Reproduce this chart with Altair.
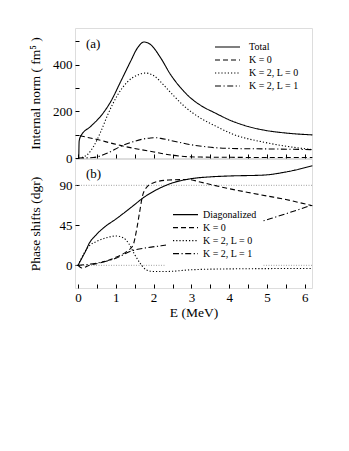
import altair as alt
import pandas as pd

# ---------------- panel (a): internal norm ----------------
names_a = ["Total", "K = 0", "K = 2, L = 0", "K = 2, L = 1"]

E_total = [0.02, 0.03, 0.07, 0.34, 0.6, 0.87, 1.13, 1.39, 1.57, 1.75, 1.92, 2.19, 2.45,
           2.72, 2.98, 3.29, 3.6, 4.08, 4.5, 4.97, 5.5, 6.2]
N_total = [0, 72, 93, 136, 179, 243, 328, 414, 471, 497, 486, 428, 357,
           300, 257, 221, 195, 158, 135, 118, 107, 99]

E_k0 = [0.05, 0.51, 0.87, 1.22, 1.66, 2.01, 2.36, 2.72, 3.25, 4.0, 5.0, 6.2]
N_k0 = [95, 79, 64, 50, 36, 26, 15, 8, 4, 3, 2, 2]

E_l0 = [0.1, 0.25, 0.42, 0.6, 0.78, 1.04, 1.3, 1.57, 1.79, 2.01, 2.28, 2.54, 2.81,
        3.3, 3.6, 4.08, 4.97, 6.2]
N_l0 = [2, 15, 52, 112, 183, 268, 325, 355, 364, 352, 310, 265, 222,
        165, 140, 103, 66, 36]

E_l1 = [0.0, 0.4, 0.78, 1.13, 1.48, 1.92, 2.05, 2.19, 2.54, 2.98, 3.29, 3.63, 4.3, 4.97, 6.2]
N_l1 = [0, 2, 21, 50, 71, 86, 87, 84, 72, 57, 50, 44, 40, 39, 36]

# ---------------- panel (b): phase shifts ----------------
names_b = ["Diagonalized", "K = 0", "K = 2, L = 0", "K = 2, L = 1"]

E_diag = [0.0, 0.1, 0.2, 0.3, 0.45, 0.7, 1.0, 1.4, 1.76, 2.1, 2.45, 3.0, 3.5, 4.0,
          4.9, 5.5, 6.2]
P_diag = [0, 8, 16, 25, 33, 43, 52, 65, 77, 85.5, 92, 97.5, 99.5, 100.5,
          101.5, 105, 112]

E_bk0 = [0.0, 0.1, 0.3, 0.6, 1.0, 1.3, 1.45, 1.55, 1.63, 1.7, 1.8, 2.0, 2.4, 2.9,
         3.3, 3.8, 4.5, 5.0, 5.5, 6.2]
P_bk0 = [0, -3, 0, 3, 9, 16, 22, 40, 60, 77, 87, 93, 96, 96.5,
         93, 88, 82, 78, 74, 67]

E_bl0 = [0.0, 0.15, 0.3, 0.5, 0.75, 1.0, 1.2, 1.35, 1.5, 1.65, 1.8, 2.0, 2.3, 3.0, 4.0, 6.2]
P_bl0 = [0, 13, 22, 27, 31, 33, 31, 24, 12, 2, -5, -7, -7, -5, -4, -3.5]

E_bl1 = [0.0, 0.5, 1.0, 1.4, 1.85, 2.2, 3.0, 4.0, 4.9, 5.5, 6.2]
P_bl1 = [0, 2.5, 8, 16, 20, 22, 28, 38, 50, 58, 68]

ref_lines = [0, 90]

x_ticks = [i * 0.5 for i in range(13)]
ya_ticks = [0, 100, 200, 300, 400, 500]
yb_ticks = [0, 45, 90]

dash_styles = [[1, 0], [5, 3], [1.2, 2], [6, 2.5, 1.2, 2.5]]


def long_df(names, xs, ys):
    rows = []
    for n, xx, yy in zip(names, xs, ys):
        for a, b in zip(xx, yy):
            rows.append({"series": n, "E": a, "v": b})
    return pd.DataFrame(rows)


df_a = long_df(names_a, [E_total, E_k0, E_l0, E_l1], [N_total, N_k0, N_l0, N_l1])
df_b = long_df(names_b, [E_diag, E_bk0, E_bl0, E_bl1], [P_diag, P_bk0, P_bl0, P_bl1])

FONT = "Liberation Serif"
W = 237
HA = 130
HB = 129

xscale = alt.Scale(domain=[-0.08, 6.19], nice=False, zero=False)

x_axis_a = alt.Axis(values=x_ticks, labels=False, title=None, tickSize=4, offset=-4,
                    domain=False, grid=False, tickColor="black")
x_axis_b = alt.Axis(values=x_ticks,
                    labelExpr="datum.value % 1 === 0 ? format(datum.value, 'd') : ''",
                    title="E  (MeV)", tickSize=4, offset=-4, domain=False, grid=False,
                    tickColor="black", labelFontSize=13, labelPadding=3,
                    titleFontSize=13.5, titleFontWeight="normal", titlePadding=1,
                    labelColor="black", titleColor="black", labelFont=FONT, titleFont=FONT)

y_axis_a = alt.Axis(values=ya_ticks,
                    labelExpr="datum.value % 200 === 0 ? format(datum.value, 'd') : ''",
                    title="Internal norm ( fm⁵ )", tickSize=4, offset=-4, domain=False,
                    grid=False, tickColor="black", labelFontSize=13, labelPadding=3,
                    titleFontSize=13.5, titleFontWeight="normal", titleX=-37,
                    labelColor="black", titleColor="black", labelFont=FONT, titleFont=FONT)
y_axis_b = alt.Axis(values=yb_ticks, format="d",
                    title="Phase shifts (dgr)", tickSize=4, offset=-4, domain=False,
                    grid=False, tickColor="black", labelFontSize=13, labelPadding=3,
                    titleFontSize=13.5, titleFontWeight="normal", titleX=-37,
                    labelColor="black", titleColor="black", labelFont=FONT, titleFont=FONT)

legend_common = dict(title=None, symbolType="stroke", symbolSize=625, symbolStrokeWidth=1.2,
                     symbolStrokeColor="black", clipHeight=12.4, rowPadding=0,
                     labelFont=FONT, labelFontSize=10, labelColor="black", orient="none",
                     zindex=2)

lines_a = alt.Chart(df_a).mark_line(color="black", strokeWidth=1.1, interpolate="monotone").encode(
    x=alt.X("E:Q", scale=xscale, axis=x_axis_a),
    y=alt.Y("v:Q", scale=alt.Scale(domain=[0, 557], nice=False, zero=False), axis=y_axis_a),
    strokeDash=alt.StrokeDash("series:N",
                              scale=alt.Scale(domain=names_a, range=dash_styles),
                              legend=alt.Legend(legendX=139, legendY=12.8, padding=0,
                                                labelOffset=8, **legend_common)),
    detail="series:N",
)

label_a = alt.Chart(pd.DataFrame({"t": ["(a)"]})).mark_text(
    font=FONT, fontSize=13, align="left", baseline="middle", color="black"
).encode(x=alt.value(11), y=alt.value(16), text="t:N")

panel_a = alt.layer(lines_a, label_a).properties(width=W, height=HA)

rules_b = alt.Chart(pd.DataFrame({"y": ref_lines})).mark_rule(
    color="#888888", strokeWidth=0.8, strokeDash=[1, 1.5]
).encode(y=alt.Y("y:Q"))

lines_b = alt.Chart(df_b).mark_line(color="black", strokeWidth=1.1, interpolate="monotone").encode(
    x=alt.X("E:Q", scale=xscale, axis=x_axis_b),
    y=alt.Y("v:Q", scale=alt.Scale(domain=[-25.5, 119.6], nice=False, zero=False), axis=y_axis_b),
    strokeDash=alt.StrokeDash("series:N",
                              scale=alt.Scale(domain=names_b, range=dash_styles),
                              legend=alt.Legend(legendX=91, legendY=43.5, padding=6,
                                                labelOffset=4, fillColor="white",
                                                **legend_common)),
    detail="series:N",
)

label_b = alt.Chart(pd.DataFrame({"t": ["(b)"]})).mark_text(
    font=FONT, fontSize=13, align="left", baseline="middle", color="black"
).encode(x=alt.value(11), y=alt.value(14.7), text="t:N")

panel_b = alt.layer(rules_b, lines_b, label_b).properties(width=W, height=HB)

chart = alt.vconcat(panel_a, panel_b, spacing=1, bounds="flush").resolve_scale(
    strokeDash="independent", x="independent", y="independent"
).resolve_legend(strokeDash="independent").properties(
    padding={"left": 19, "top": 19, "right": 5, "bottom": 5}
).configure_view(stroke="black", strokeWidth=1).configure(font=FONT)

chart.save("out.html", embed_options={"renderer": "svg", "actions": False})
